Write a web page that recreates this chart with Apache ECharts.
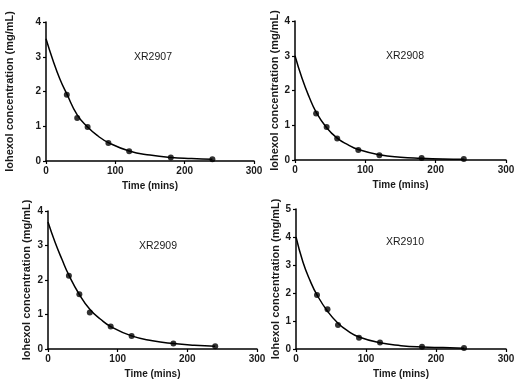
<!DOCTYPE html>
<html>
<head>
<meta charset="utf-8">
<script src="https://cdn.jsdelivr.net/npm/echarts@6/dist/echarts.min.js"></script>
<style>html,body{margin:0;padding:0;background:#fff}#c{width:526px;height:389px}</style>
</head>
<body>
<div id="c"></div>
<script>
// Sample times (mins)
const sampleTimes = [30, 45, 60, 90, 120, 180, 240];
// Measured concentrations (mg/mL)
const xr2907 = [1.91, 1.24, 0.98, 0.52, 0.28, 0.10, 0.05];
const xr2908 = [1.34, 0.95, 0.62, 0.29, 0.14, 0.06, 0.03];
const xr2909 = [2.12, 1.59, 1.06, 0.65, 0.38, 0.16, 0.08];
const xr2910 = [1.93, 1.42, 0.86, 0.40, 0.23, 0.08, 0.04];
// Fitted curve
const curveTimes = [0, 10, 20, 30, 45, 60, 75, 90, 120, 150, 180, 210, 240];
const fit2907 = [3.52, 2.90, 2.36, 1.93, 1.33, 0.98, 0.72, 0.53, 0.29, 0.17, 0.10, 0.07, 0.05];
const fit2908 = [3.00, 2.35, 1.82, 1.38, 0.93, 0.63, 0.44, 0.30, 0.15, 0.08, 0.05, 0.03, 0.02];
const fit2909 = [3.68, 3.10, 2.60, 2.14, 1.58, 1.15, 0.87, 0.65, 0.38, 0.24, 0.16, 0.11, 0.08];
const fit2910 = [4.00, 3.10, 2.45, 1.93, 1.35, 0.92, 0.63, 0.43, 0.22, 0.12, 0.07, 0.05, 0.03];
const xTicks = [0, 100, 200, 300];
const panelNames = ['XR2907', 'XR2908', 'XR2909', 'XR2910'];
const yMax = [4, 4, 4, 5];

const points = [xr2907, xr2908, xr2909, xr2910];
const fits = [fit2907, fit2908, fit2909, fit2910];
const grids = [
  {left: 46, top: 22, width: 208, height: 139},
  {left: 295, top: 21, width: 211, height: 139},
  {left: 48, top: 211, width: 209, height: 138},
  {left: 296, top: 209, width: 210, height: 140}
];
const yNameGap = [31, 13, 16, 14];
const titlePos = [[148, 47], [400, 46], [153, 236], [400, 232]];
const font = 'Liberation Sans, Arial, sans-serif';
const txt = '#1a1a1a';

const option = {
  animation: false,
  grid: grids,
  title: panelNames.map((n, i) => ({
    text: n, left: titlePos[i][0], top: titlePos[i][1], textAlign: 'center',
    textStyle: {fontSize: 10.5, fontWeight: 'normal', color: txt, fontFamily: font}
  })),
  xAxis: grids.map((g, i) => ({
    type: 'value', gridIndex: i, min: 0, max: 300, interval: 100,
    name: 'Time (mins)', nameLocation: 'middle', nameGap: 20,
    nameTextStyle: {fontSize: 10, fontWeight: 'bold', color: txt, fontFamily: font},
    axisLine: {show: true, lineStyle: {color: '#000', width: 1.5}},
    axisTick: {show: true, length: 3, lineStyle: {color: '#000', width: 1.2}},
    axisLabel: {fontSize: 10, fontWeight: 'bold', color: txt, fontFamily: font, margin: 5,
      formatter: v => xTicks.includes(v) ? String(v) : ''},
    splitLine: {show: false}
  })),
  yAxis: grids.map((g, i) => ({
    type: 'value', gridIndex: i, min: 0, max: yMax[i], interval: 1,
    name: 'Iohexol concentration (mg/mL)', nameLocation: 'middle', nameGap: yNameGap[i],
    nameTextStyle: {fontSize: 11, fontWeight: 'bold', color: txt, fontFamily: font},
    axisLine: {show: true, lineStyle: {color: '#000', width: 1.5}},
    axisTick: {show: true, length: 3, lineStyle: {color: '#000', width: 1.2}},
    axisLabel: {fontSize: 10, fontWeight: 'bold', color: txt, fontFamily: font, margin: 5},
    splitLine: {show: false}
  })),
  series: []
};
for (let i = 0; i < 4; i++) {
  option.series.push({
    type: 'line', xAxisIndex: i, yAxisIndex: i, smooth: 0.5, symbol: 'none',
    lineStyle: {color: '#000', width: 1.5},
    data: curveTimes.map((t, k) => [t, fits[i][k]])
  });
  option.series.push({
    type: 'scatter', xAxisIndex: i, yAxisIndex: i, symbol: 'circle', symbolSize: 6,
    itemStyle: {color: '#000'},
    data: sampleTimes.map((t, k) => [t, points[i][k]])
  });
}
echarts.init(document.getElementById('c'), null, {renderer: 'canvas'}).setOption(option);
</script>
</body>
</html>
